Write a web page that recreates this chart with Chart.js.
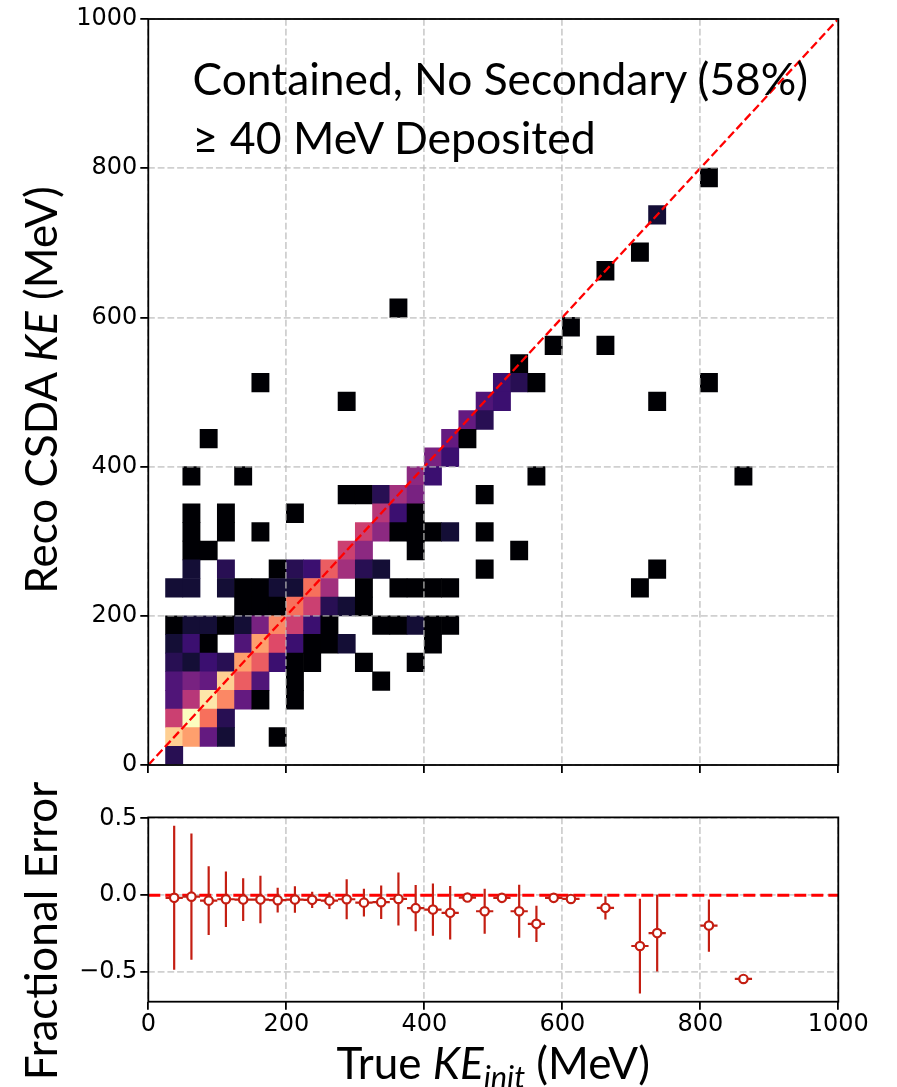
<!DOCTYPE html>
<html>
<head>
<meta charset="utf-8">
<title>Reco CSDA KE vs True KE</title>
<script src="https://cdn.jsdelivr.net/npm/chart.js@4.4.1/dist/chart.umd.min.js"></script>
<style>
  html, body { margin: 0; padding: 0; background: #fff; }
  #page { position: relative; width: 897px; height: 1087px; overflow: hidden; background: #fff; }
  #page canvas { position: absolute; left: 0; }
  .txt { position: absolute; font-family: Lato, "Open Sans", sans-serif; color: #000; white-space: nowrap; line-height: 1; }
  .rot { transform: translate(-50%, -50%) rotate(-90deg); }
  .ctr { transform: translateX(-50%); }
</style>
</head>
<body>
<div id="page">
  <canvas id="hist" width="897" height="790" style="top:0"></canvas>
  <canvas id="frac" width="897" height="287" style="top:800px"></canvas>
  <div class="txt" id="note1" style="left:192.6px; top:56px; font-size:44.3px;">Contained, No Secondary (58%)</div>
  <div class="txt" id="note2" style="left:192.6px; top:115px; font-size:44.6px;">&#8805; 40 MeV Deposited</div>
  <div class="txt rot" id="ytitleTop" style="left:40px; top:390px; font-size:44px;">Reco CSDA <i>KE</i> (MeV)</div>
  <div class="txt rot" id="ytitleBottom" style="left:40px; top:931px; font-size:44px;">Fractional Error</div>
  <div class="txt ctr" id="xtitle" style="left:493.3px; top:1040px; font-size:44px;">True <i>KE<span style="font-size:0.7em; vertical-align:-0.28em;">init</span></i> (MeV)</div>
</div>
<script>
// ---- 2D histogram: reconstructed CSDA KE vs true initial KE (25 MeV bins) ----
const binWidth = 25;
const nBins = 40;
// one entry per filled cell: true-KE bin centre, reco-KE bin centre, entries
const cellTrueKE = [
  37.5,
  37.5, 62.5, 87.5, 112.5, 187.5,
  37.5, 62.5, 87.5, 112.5,
  37.5, 62.5, 87.5, 112.5, 137.5, 162.5, 212.5,
  37.5, 62.5, 87.5, 112.5, 137.5, 162.5, 212.5, 337.5,
  37.5, 62.5, 87.5, 112.5, 137.5, 162.5, 187.5, 212.5, 237.5, 312.5, 387.5,
  37.5, 62.5, 87.5, 137.5, 162.5, 187.5, 212.5, 237.5, 262.5, 287.5, 412.5,
  37.5, 62.5, 87.5, 112.5, 137.5, 162.5, 187.5, 212.5, 237.5, 262.5, 337.5, 362.5, 387.5, 412.5, 437.5,
  137.5, 162.5, 187.5, 212.5, 237.5, 262.5, 287.5, 312.5,
  37.5, 62.5, 112.5, 137.5, 162.5, 187.5, 212.5, 237.5, 262.5, 312.5, 362.5, 387.5, 412.5, 437.5, 712.5,
  62.5, 112.5, 187.5, 212.5, 237.5, 262.5, 287.5, 312.5, 337.5, 487.5, 737.5,
  62.5, 87.5, 287.5, 312.5, 387.5, 537.5,
  62.5, 112.5, 162.5, 312.5, 337.5, 362.5, 387.5, 412.5, 437.5, 487.5,
  62.5, 112.5, 212.5, 337.5, 362.5, 387.5,
  287.5, 312.5, 337.5, 362.5, 387.5, 487.5,
  62.5, 137.5, 387.5, 412.5, 562.5, 862.5,
  412.5, 437.5,
  87.5, 437.5, 462.5,
  462.5, 487.5,
  287.5, 487.5, 512.5, 737.5,
  162.5, 512.5, 537.5, 562.5, 812.5,
  537.5,
  587.5, 662.5,
  612.5,
  362.5,
  662.5,
  712.5,
  737.5,
  812.5
];
const cellRecoKE = [
  12.5,
  37.5, 37.5, 37.5, 37.5, 37.5,
  62.5, 62.5, 62.5, 62.5,
  87.5, 87.5, 87.5, 87.5, 87.5, 87.5, 87.5,
  112.5, 112.5, 112.5, 112.5, 112.5, 112.5, 112.5, 112.5,
  137.5, 137.5, 137.5, 137.5, 137.5, 137.5, 137.5, 137.5, 137.5, 137.5, 137.5,
  162.5, 162.5, 162.5, 162.5, 162.5, 162.5, 162.5, 162.5, 162.5, 162.5, 162.5,
  187.5, 187.5, 187.5, 187.5, 187.5, 187.5, 187.5, 187.5, 187.5, 187.5, 187.5, 187.5, 187.5, 187.5, 187.5,
  212.5, 212.5, 212.5, 212.5, 212.5, 212.5, 212.5, 212.5,
  237.5, 237.5, 237.5, 237.5, 237.5, 237.5, 237.5, 237.5, 237.5, 237.5, 237.5, 237.5, 237.5, 237.5, 237.5,
  262.5, 262.5, 262.5, 262.5, 262.5, 262.5, 262.5, 262.5, 262.5, 262.5, 262.5,
  287.5, 287.5, 287.5, 287.5, 287.5, 287.5,
  312.5, 312.5, 312.5, 312.5, 312.5, 312.5, 312.5, 312.5, 312.5, 312.5,
  337.5, 337.5, 337.5, 337.5, 337.5, 337.5,
  362.5, 362.5, 362.5, 362.5, 362.5, 362.5,
  387.5, 387.5, 387.5, 387.5, 387.5, 387.5,
  412.5, 412.5,
  437.5, 437.5, 437.5,
  462.5, 462.5,
  487.5, 487.5, 487.5, 487.5,
  512.5, 512.5, 512.5, 512.5, 512.5,
  537.5,
  562.5, 562.5,
  587.5,
  612.5,
  662.5,
  687.5,
  737.5,
  787.5
];
const cellEntries = [
  4,
  19, 17, 7, 3, 1,
  12, 21, 15, 4,
  6, 11, 20, 16, 7, 1, 1,
  6, 8, 7, 19, 14, 6, 1, 1,
  4, 3, 5, 4, 17, 14, 5, 1, 1, 1, 1,
  3, 5, 1, 6, 17, 13, 5, 1, 1, 3, 1,
  1, 3, 3, 1, 3, 8, 16, 12, 5, 1, 1, 1, 3, 1, 1,
  1, 1, 1, 15, 12, 4, 3, 1,
  3, 3, 3, 1, 1, 3, 3, 15, 10, 1, 1, 1, 1, 1, 1,
  3, 4, 1, 4, 5, 14, 10, 4, 3, 1, 1,
  1, 1, 12, 9, 1, 1,
  1, 1, 1, 12, 9, 1, 1, 1, 3, 1,
  1, 1, 1, 11, 5, 1,
  1, 1, 4, 10, 8, 1,
  1, 1, 9, 5, 1, 1,
  8, 5,
  1, 7, 1,
  7, 4,
  1, 6, 5, 1,
  1, 5, 4, 1, 1,
  1,
  1, 1,
  1,
  1,
  1,
  1,
  3,
  1
];

// ---- fractional error per true-KE bin: mean and spread ----
const fracTrueKE = [37.5, 62.5, 87.5, 112.5, 137.5, 162.5, 187.5, 212.5, 237.5, 262.5,
  287.5, 312.5, 337.5, 362.5, 387.5, 412.5, 437.5, 462.5, 487.5, 512.5,
  537.5, 562.5, 587.5, 612.5, 662.5, 712.5, 737.5, 812.5, 862.5];
const fracMean = [-0.017, -0.009, -0.035, -0.026, -0.028, -0.028, -0.032, -0.028, -0.030, -0.035,
  -0.026, -0.048, -0.045, -0.024, -0.084, -0.093, -0.114, -0.015, -0.104, -0.017,
  -0.104, -0.186, -0.017, -0.024, -0.082, -0.330, -0.246, -0.197, -0.544];
const fracSpread = [0.468, 0.410, 0.223, 0.181, 0.139, 0.154, 0.080, 0.086, 0.053, 0.054,
  0.130, 0.090, 0.109, 0.172, 0.150, 0.170, 0.174, 0.000, 0.146, 0.000,
  0.173, 0.118, 0.000, 0.000, 0.075, 0.308, 0.250, 0.170, 0.000];

// ---- axis ticks ----
const keTickValues = [0, 200, 400, 600, 800, 1000];
const keTickLabels = ['0', '200', '400', '600', '800', '1000'];
const fracTickValues = [-0.5, 0.0, 0.5];
const fracTickLabels = ['\u22120.5', '0.0', '0.5'];

// ---- magma colour map ----
const magmaStops = ['#000004', '#140e36', '#3b0f70', '#641a80', '#8c2981', '#b73779',
  '#de4968', '#f7705c', '#fe9f6d', '#fecf92', '#fcfdbf'];
function hexToRgb(h) { return [1, 3, 5].map(k => parseInt(h.substr(k, 2), 16)); }
const magmaRgb = magmaStops.map(hexToRgb);
function magma(t) {
  t = Math.max(0, Math.min(1, t));
  const p = t * (magmaRgb.length - 1);
  const k = Math.min(Math.floor(p), magmaRgb.length - 2);
  const f = p - k;
  const a = magmaRgb[k], b = magmaRgb[k + 1];
  const c = a.map((v, n) => Math.round(v + (b[n] - v) * f));
  return 'rgb(' + c.join(',') + ')';
}
const minEntries = Math.min(...cellEntries);
const maxEntries = Math.max(...cellEntries);

// one floating-bar dataset per reco-KE row of the histogram
const binLabels = Array.from({length: nBins}, (_, i) => String(binWidth * i + binWidth / 2));
const recoRows = [...new Set(cellRecoKE)].sort((a, b) => a - b);
const histDatasets = recoRows.map(reco => {
  const data = new Array(nBins).fill(null);
  const colors = new Array(nBins).fill('rgba(0,0,0,0)');
  cellRecoKE.forEach((r, k) => {
    if (r !== reco) return;
    const i = Math.round((cellTrueKE[k] - binWidth / 2) / binWidth);
    data[i] = [reco - binWidth / 2, reco + binWidth / 2];
    colors[i] = magma((cellEntries[k] - minEntries) / (maxEntries - minEntries));
  });
  return {
    type: 'bar', xAxisID: 'xb', yAxisID: 'y', data, backgroundColor: colors,
    borderWidth: 0, grouped: false, barPercentage: 1, categoryPercentage: 1, order: 2
  };
});

// ---- shared styling ----
const tickFont = {family: '"DejaVu Sans", sans-serif', size: 24};
const gridDash = [6.8, 2.9];
function gridOpts() {
  return {
    color: 'rgba(185,185,185,0.68)', lineWidth: 1.8, borderDash: gridDash,
    drawTicks: true, tickLength: 8, tickWidth: 1.8, tickColor: '#000', tickBorderDash: [],
    offset: false, z: 1
  };
}
function fixedTicks(values) {
  return scale => { scale.ticks = values.map(v => ({value: v})); };
}
function labelFor(values, labels) {
  return v => { const i = values.findIndex(x => Math.abs(x - v) < 1e-9); return i < 0 ? '' : labels[i]; };
}
const framePlugin = {
  id: 'frame',
  afterDraw(chart) {
    const {ctx, chartArea: a} = chart;
    ctx.save();
    ctx.strokeStyle = '#000';
    ctx.lineWidth = 1.8;
    ctx.strokeRect(a.left, a.top, a.right - a.left, a.bottom - a.top);
    ctx.restore();
  }
};

const plotLeft = 148.3, plotRight = 838.3;

// ---- top panel ----
new Chart(document.getElementById('hist'), {
  type: 'bar',
  data: {
    labels: binLabels,
    datasets: [
      {
        type: 'line', xAxisID: 'x', yAxisID: 'y',
        data: [{x: 0, y: 0}, {x: 1000, y: 1000}],
        borderColor: '#ff0000', borderWidth: 2.3, borderDash: [8.5, 3.7],
        pointRadius: 0, fill: false, order: 0
      },
      ...histDatasets
    ]
  },
  options: {
    responsive: false, animation: false, events: [],
    layout: {padding: {top: 19, right: 897 - plotRight, left: 0, bottom: 0}},
    plugins: {legend: {display: false}, tooltip: {enabled: false}},
    scales: {
      xb: {type: 'category', display: false, offset: true},
      x: {
        type: 'linear', position: 'bottom', min: 0, max: 1000, offset: false,
        afterBuildTicks: fixedTicks(keTickValues),
        ticks: {display: false},
        grid: gridOpts(), border: {display: false, dash: gridDash},
        afterFit: s => { s.height = 25; }
      },
      y: {
        type: 'linear', position: 'left', min: 0, max: 1000,
        afterBuildTicks: fixedTicks(keTickValues),
        ticks: {font: tickFont, color: '#000', padding: 3, callback: labelFor(keTickValues, keTickLabels)},
        grid: gridOpts(), border: {display: false, dash: gridDash},
        afterFit: s => { s.width = plotLeft; }
      }
    }
  },
  plugins: [framePlugin]
});

// ---- bottom panel ----
const errColor = '#c41e12';
const vBars = [], hBars = [], markers = [];
fracTrueKE.forEach((x, k) => {
  const m = fracMean[k], e = fracSpread[k];
  vBars.push({x, y: m - e}, {x, y: m + e}, {x, y: null});
  hBars.push({x: x - binWidth / 2, y: m}, {x: x + binWidth / 2, y: m}, {x, y: null});
  markers.push({x, y: m});
});

new Chart(document.getElementById('frac'), {
  type: 'scatter',
  data: {
    datasets: [
      {
        type: 'line', data: [{x: 0, y: 0}, {x: 1000, y: 0}],
        borderColor: '#ff0000', borderWidth: 3, borderDash: [12, 5],
        pointRadius: 0, fill: false, order: 4
      },
      {
        type: 'line', data: vBars, borderColor: errColor, borderWidth: 2.2,
        pointRadius: 0, spanGaps: false, fill: false, order: 3
      },
      {
        type: 'line', data: hBars, borderColor: errColor, borderWidth: 2.2,
        pointRadius: 0, spanGaps: false, fill: false, order: 2
      },
      {
        type: 'scatter', data: markers, pointStyle: 'circle', pointRadius: 4.2,
        borderWidth: 2.2, borderColor: errColor, backgroundColor: '#ffffff', order: 0
      }
    ]
  },
  options: {
    responsive: false, animation: false, events: [],
    layout: {padding: {top: 16, right: 897 - plotRight, left: 0, bottom: 0}},
    plugins: {legend: {display: false}, tooltip: {enabled: false}},
    scales: {
      x: {
        type: 'linear', position: 'bottom', min: 0, max: 1000,
        afterBuildTicks: fixedTicks(keTickValues),
        ticks: {font: tickFont, color: '#000', padding: 1, maxRotation: 0, callback: labelFor(keTickValues, keTickLabels)},
        grid: Object.assign(gridOpts(), {z: -1}), border: {display: false, dash: gridDash},
        afterFit: s => { s.height = 287 - 16 - (1001.7 - 816); }
      },
      y: {
        type: 'linear', position: 'left', min: -0.692, max: 0.506,
        afterBuildTicks: fixedTicks(fracTickValues),
        ticks: {font: tickFont, color: '#000', padding: 3, callback: labelFor(fracTickValues, fracTickLabels)},
        grid: Object.assign(gridOpts(), {z: -1}), border: {display: false, dash: gridDash},
        afterFit: s => { s.width = plotLeft; }
      }
    }
  },
  plugins: [framePlugin]
});
</script>
</body>
</html>
